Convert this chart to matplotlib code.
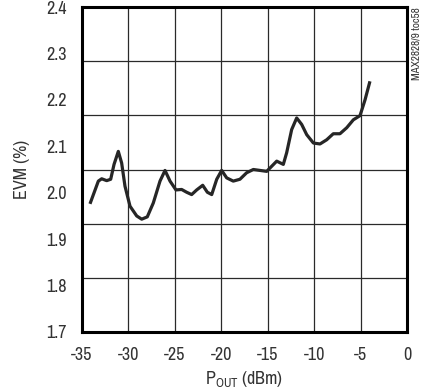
import matplotlib
matplotlib.use("Agg")
import matplotlib.pyplot as plt
from matplotlib import font_manager

names = {f.name for f in font_manager.fontManager.ttflist}
FONT = "Archivo Narrow" if "Archivo Narrow" in names else "Liberation Sans"
plt.rcParams["font.family"] = [FONT, "Liberation Sans", "DejaVu Sans"]
plt.rcParams["mathtext.fontset"] = "custom"
plt.rcParams["mathtext.rm"] = FONT

# Data
pout = [-34.14, -33.24, -32.88, -32.34, -31.91, -31.55, -31.09, -30.73, -30.37,
        -29.83, -29.11, -28.57, -27.97, -27.32, -26.60, -26.06, -25.52, -24.88,
        -24.27, -23.73, -23.19, -22.65, -22.00, -21.50, -21.03, -20.49, -19.96,
        -19.42, -18.71, -17.99, -17.27, -16.55, -15.83, -15.11, -14.57, -14.03,
        -13.32, -12.96, -12.42, -11.88, -11.34, -10.80, -10.08, -9.37, -8.65,
        -7.94, -7.22, -6.49, -5.78, -5.06, -4.52, -3.99]
evm = [1.976, 2.025, 2.030, 2.026, 2.029, 2.061, 2.089, 2.064, 2.014,
       1.971, 1.950, 1.943, 1.948, 1.978, 2.025, 2.048, 2.025, 2.006,
       2.007, 2.001, 1.996, 2.006, 2.016, 2.001, 1.996, 2.029, 2.048,
       2.032, 2.025, 2.029, 2.043, 2.050, 2.048, 2.046, 2.057, 2.068,
       2.061, 2.086, 2.136, 2.161, 2.147, 2.125, 2.107, 2.105, 2.114,
       2.127, 2.127, 2.140, 2.157, 2.166, 2.200, 2.240]
xticks = [-35, -30, -25, -20, -15, -10, -5, 0]
yticks = [1.7, 1.8, 1.9, 2.0, 2.1, 2.2, 2.3, 2.4]
ytick_labels = ["1.7", "1.8", "1.9", "2.0", "2.1", "2.2", "2.3", "2.4"]

fig = plt.figure(figsize=(4.22, 3.90), dpi=100)
ax = fig.add_axes([82/422, 1-332/390, 325/422, 325/390])
ax.set_xlim(-35, 0)
ax.set_ylim(1.7, 2.4)

# grid: vertical every 5 dBm, horizontal 6 divisions
for xv in xticks[1:-1]:
    ax.axvline(xv, color="#2a2a2a", lw=0.9, zorder=1)
for k in range(1, 6):
    ax.axhline(1.7 + k * 0.7 / 6, color="#2a2a2a", lw=0.9, zorder=1)

ax.plot(pout, evm, color="#262626", lw=2.3, solid_capstyle="butt",
        solid_joinstyle="round", zorder=3)

ax.set_xticks(xticks)
ax.set_xticklabels([str(v) for v in xticks])
ax.set_yticks(yticks)
ax.set_yticklabels(ytick_labels)
ax.tick_params(length=0, pad=11, labelsize=13, colors="#333333")
for s in ax.spines.values():
    s.set_linewidth(2.2)
    s.set_color("black")

ax.set_xlabel(r"$\mathregular{P_{OUT}}$ (dBm)", fontsize=13, color="#333333", labelpad=4)
ax.set_ylabel("EVM (%)", fontsize=13, color="#333333", labelpad=12)

fig.text(416/422, 1-44/390, "MAX2828/9 toc58", rotation=90, fontsize=8,
         ha="center", va="center", color="#333333")

fig.savefig("out.png", dpi=100)
